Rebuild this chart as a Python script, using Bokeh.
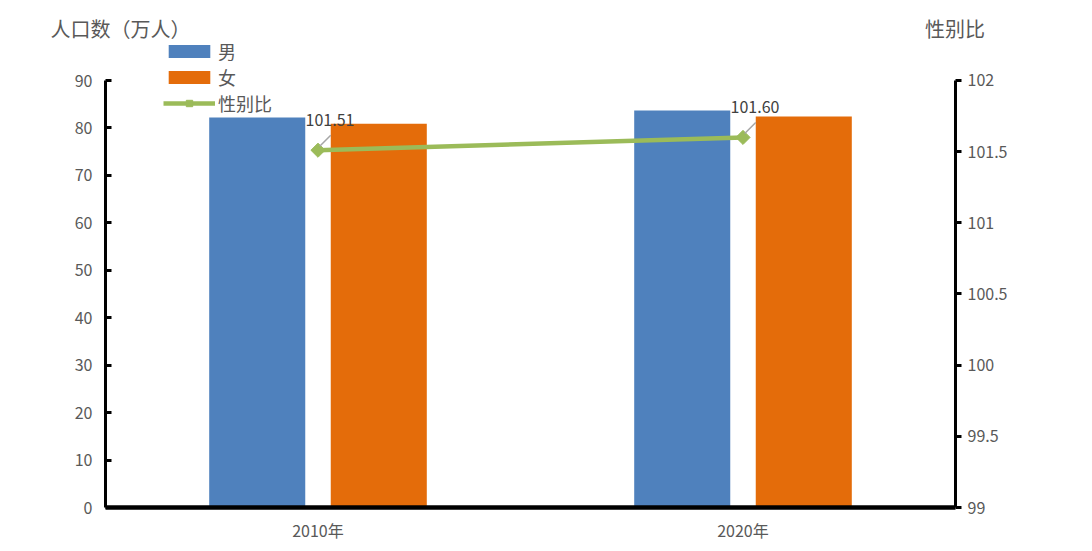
import numpy as np
from bokeh.plotting import figure
from bokeh.models import (Range1d, LinearAxis, FixedTicker, CustomJSTickFormatter,
                          ColumnDataSource, LabelSet, Legend, LegendItem)
from bokeh.core.properties import value
from bokeh.transform import dodge
from bokeh.embed import file_html
from bokeh.resources import INLINE

# ---- data ----
years = ["2010年", "2020年"]
male = [82.2, 83.7]
female = [80.9, 82.4]
sex_ratio = [101.51, 101.60]
left_ticks = [0, 10, 20, 30, 40, 50, 60, 70, 80, 90]
right_ticks = [99, 99.5, 100, 100.5, 101, 101.5, 102]
axis_titles = ["人口数（万人）", "性别比"]

FONT = "Noto Sans CJK SC"
GRAY = "#595959"

# category slots: each year occupies one unit, centred at i + 0.5
pos = [i + 0.5 for i in range(len(years))]

src = ColumnDataSource(dict(pos=pos, year=years, male=male, female=female, ratio=sex_ratio,
                            ratio_text=[f"{v:.2f}" for v in sex_ratio]))

p = figure(width=1092, height=551, x_range=Range1d(0, len(years)), y_range=Range1d(0, 99.70),
           output_backend="svg", toolbar_location=None,
           min_border_left=105, min_border_right=137, min_border_top=34, min_border_bottom=44)
p.outline_line_color = None
p.grid.visible = False
p.background_fill_color = "white"
p.extra_y_ranges = {"ratio": Range1d(99, 102.323)}
p.extra_x_ranges = {"titles": Range1d(0, 850)}

# left axis
ya = p.yaxis[0]
ya.bounds = (0, 90)
ya.ticker = FixedTicker(ticks=left_ticks)
ya.axis_line_width = 3
ya.axis_line_color = "black"
ya.major_tick_line_width = 3
ya.major_tick_line_color = "black"
ya.major_tick_in = 6
ya.major_tick_out = 0
ya.minor_tick_line_color = None
ya.major_label_standoff = 13
ya.major_label_text_font = FONT
ya.major_label_text_font_size = "16px"
ya.major_label_text_color = GRAY

# right axis
ra = LinearAxis(y_range_name="ratio", bounds=(99, 102), ticker=FixedTicker(ticks=right_ticks),
                formatter=CustomJSTickFormatter(code="return tick.toString()"))
ra.axis_line_width = 3
ra.axis_line_color = "black"
ra.major_tick_line_width = 3
ra.major_tick_line_color = "black"
ra.major_tick_in = 0
ra.major_tick_out = 6
ra.minor_tick_line_color = None
ra.major_label_standoff = 6
ra.major_label_text_font = FONT
ra.major_label_text_font_size = "16px"
ra.major_label_text_color = GRAY
p.add_layout(ra, "right")

# bottom axis (category labels)
xa = p.xaxis[0]
xa.ticker = FixedTicker(ticks=pos)
xa.formatter = CustomJSTickFormatter(args=dict(names=years), code="return names[index]")
xa.axis_line_width = 4.5
xa.axis_line_color = "black"
xa.major_tick_line_color = None
xa.major_tick_out = 0
xa.major_tick_in = 0
xa.minor_tick_line_color = None
xa.major_label_standoff = 10
xa.major_label_text_font = FONT
xa.major_label_text_font_size = "16px"
xa.major_label_text_color = GRAY

# axis titles, drawn as the labels of a bare axis above the frame
ta = LinearAxis(x_range_name="titles", ticker=FixedTicker(ticks=[15, 849.5]),
                formatter=CustomJSTickFormatter(args=dict(names=axis_titles), code="return names[index]"))
ta.axis_line_color = None
ta.major_tick_line_color = None
ta.minor_tick_line_color = None
ta.major_tick_in = 0
ta.major_tick_out = 0
ta.major_label_standoff = -8
ta.major_label_text_font = FONT
ta.major_label_text_font_size = "20px"
ta.major_label_text_color = GRAY
p.add_layout(ta, "above")

# bars
rm = p.vbar(x=dodge("pos", -0.143), top="male", width=0.226, source=src,
            fill_color="#4F81BD", line_color=None)
rf = p.vbar(x=dodge("pos", 0.143), top="female", width=0.226, source=src,
            fill_color="#E46C0A", line_color=None)

# sex ratio line
rl = p.line(x="pos", y="ratio", y_range_name="ratio", source=src, line_color="#9BBB59", line_width=4.5)
rs = p.scatter(x="pos", y="ratio", y_range_name="ratio", source=src, marker="square",
               angle=np.pi / 4, size=10, fill_color="#9BBB59", line_color="#9BBB59")

# leader lines and data labels
p.segment(x0=dodge("pos", 0.004), y0=dodge("ratio", 0.028),
          x1=dodge("pos", 0.03), y1=dodge("ratio", 0.105),
          y_range_name="ratio", source=src, line_color="#A6A6A6", line_width=1.5)
labels = LabelSet(x="pos", y="ratio", text="ratio_text", y_range_name="ratio", source=src,
                  x_offset=12, y_offset=30, text_align="center", text_baseline="middle",
                  text_font=value(FONT), text_font_size="16px", text_color="#404040")
p.add_layout(labels)

legend = Legend(items=[LegendItem(label="男", renderers=[rm]),
                       LegendItem(label="女", renderers=[rf]),
                       LegendItem(label="性别比", renderers=[rl, rs])],
                location=(58, 391), glyph_width=52, glyph_height=16, label_standoff=3,
                spacing=-3, padding=0, margin=0, border_line_color=None,
                background_fill_alpha=0, label_height=20,
                label_text_font=FONT, label_text_font_size="18px", label_text_color=GRAY)
p.add_layout(legend)

open("out.html", "w").write(file_html(p, INLINE))
